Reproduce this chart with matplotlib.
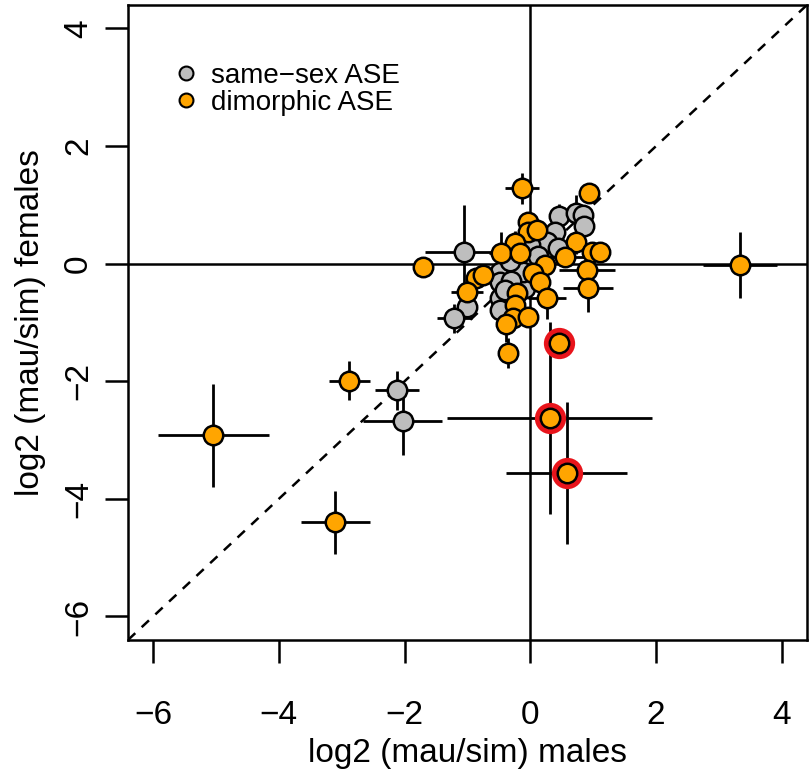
import numpy as np
import matplotlib
matplotlib.use("Agg")
import matplotlib.pyplot as plt
from matplotlib.lines import Line2D

plt.rcParams['font.family'] = ['Liberation Sans', 'DejaVu Sans']

# same-sex ASE genes (grey): log2 ratio males, females, and error half-widths
same_x = [-1.06, 0.46, 0.73, 0.84, 0.85, 0.39, 0.26, -0.48, -0.22, -0.08,
          -0.48, -1.01, -0.48, -1.21, -2.12, -2.03, -0.48, -0.24, 0.00, 0.44,
          0.00, -0.11, 0.12, -0.33, -0.30, -0.40]
same_y = [0.20, 0.81, 0.87, 0.83, 0.64, 0.54, 0.37, -0.14, -0.16, -0.42,
          -0.59, -0.73, -0.79, -0.93, -2.15, -2.68, -0.31, -0.02, 0.32, 0.26,
          0.06, -0.14, 0.13, 0.05, -0.30, -0.45]
same_xe = [0.62, 0.15, 0.15, 0.10, 0.10, 0.15, 0.10, 0.20, 0.15, 0.12,
           0.15, 0.15, 0.15, 0.28, 0.35, 0.63, 0.15, 0.10, 0.10, 0.12,
           0.10, 0.10, 0.10, 0.10, 0.10, 0.10]
same_ye = [0.80, 0.20, 0.30, 0.10, 0.10, 0.15, 0.10, 0.20, 0.15, 0.12,
           0.15, 0.20, 0.15, 0.25, 0.33, 0.58, 0.15, 0.10, 0.10, 0.12,
           0.10, 0.10, 0.10, 0.10, 0.10, 0.10]

# dimorphic ASE genes (orange)
dim_x = [-0.14, 0.94, -0.03, -0.03, 0.10, 0.72, -0.24, -0.46, -0.16, 0.55,
         0.98, 1.11, -1.71, 0.23, 0.05, 0.15, -0.86, -0.75, 0.90, 0.92,
         -1.01, -0.22, 0.26, -0.24, -0.27, -0.03, -0.39, -0.35, 3.34, -5.04,
         -2.88, -3.10, 0.46, 0.31, 0.58]
dim_y = [1.28, 1.20, 0.71, 0.54, 0.57, 0.37, 0.35, 0.19, 0.19, 0.12,
         0.20, 0.20, -0.05, -0.02, -0.16, -0.31, -0.25, -0.19, -0.11, -0.42,
         -0.48, -0.50, -0.59, -0.70, -0.93, -0.90, -1.03, -1.52, -0.02, -2.92,
         -1.99, -4.40, -1.35, -2.62, -3.56]
dim_xe = [0.27, 0.10, 0.15, 0.12, 0.12, 0.15, 0.10, 0.20, 0.12, 0.30,
          0.10, 0.10, 0.12, 0.12, 0.10, 0.10, 0.12, 0.10, 0.45, 0.40,
          0.25, 0.10, 0.30, 0.10, 0.12, 0.10, 0.12, 0.10, 0.59, 0.88,
          0.33, 0.55, 0.10, 1.63, 0.96]
dim_ye = [0.27, 0.10, 0.15, 0.12, 0.12, 0.20, 0.20, 0.35, 0.12, 0.10,
          0.10, 0.10, 0.10, 0.12, 0.10, 0.10, 0.12, 0.10, 0.10, 0.40,
          0.10, 0.10, 0.35, 0.10, 0.12, 0.10, 0.30, 0.25, 0.56, 0.88,
          0.33, 0.54, 0.10, 1.63, 1.20]

# genes highlighted with a red ring (indices into the dimorphic lists)
highlight = [32, 33, 34]

grey = '#BEBEBE'
orange = '#FFA500'

fig = plt.figure(figsize=(8.12, 7.75), dpi=100)
ax = fig.add_axes([0.1576, 0.1742, 0.8362, 0.8194])
ax.set_xlim(-6.4, 4.4)
ax.set_ylim(-6.4, 4.4)

ax.axvline(0, color='black', lw=1.8, zorder=1)
ax.axhline(0, color='black', lw=1.8, zorder=1)
ax.plot([-6.4, 4.4], [-6.4, 4.4], color='black', lw=1.8,
        dashes=(4, 3.5), zorder=1)

ax.errorbar(same_x, same_y, xerr=same_xe, yerr=same_ye, fmt='none',
            ecolor='black', elinewidth=2, capsize=0, zorder=2)
ax.errorbar(dim_x, dim_y, xerr=dim_xe, yerr=dim_ye, fmt='none',
            ecolor='black', elinewidth=2, capsize=0, zorder=2)

hx = [dim_x[i] for i in highlight]
hy = [dim_y[i] for i in highlight]
ax.plot(hx, hy, 'o', ms=22.5, color='#E8141B', mec='none', zorder=3)

ax.plot(same_x, same_y, 'o', ms=14, mfc=grey, mec='black', mew=1.8,
        zorder=4)
ax.plot(dim_x, dim_y, 'o', ms=14, mfc=orange, mec='black', mew=1.8,
        zorder=5)

ticks = [-6, -4, -2, 0, 2, 4]
ax.set_xticks(ticks)
ax.set_yticks(ticks)
ax.tick_params(axis='both', direction='out', length=16.5, width=1.8,
               labelsize=24)
ax.tick_params(axis='x', pad=27)
ax.tick_params(axis='y', pad=8, labelrotation=90)
for lab in ax.get_yticklabels():
    lab.set_va('center')
for s in ax.spines.values():
    s.set_linewidth(1.8)

ax.set_xlabel('log2 (mau/sim) males', fontsize=24, labelpad=5)
ax.set_ylabel('log2 (mau/sim) females', fontsize=24, labelpad=12)

handles = [Line2D([], [], marker='o', ls='none', ms=10, mfc=grey,
                  mec='black', mew=1.5),
           Line2D([], [], marker='o', ls='none', ms=10, mfc=orange,
                  mec='black', mew=1.5)]
ax.legend(handles, ['same\u2212sex ASE', 'dimorphic ASE'], loc='upper left',
          bbox_to_anchor=(0.04, 0.94), frameon=False, fontsize=20,
          handlelength=0.8, handletextpad=0.5, labelspacing=0.05,
          borderpad=0.2)

fig.savefig('out.png', dpi=100)
